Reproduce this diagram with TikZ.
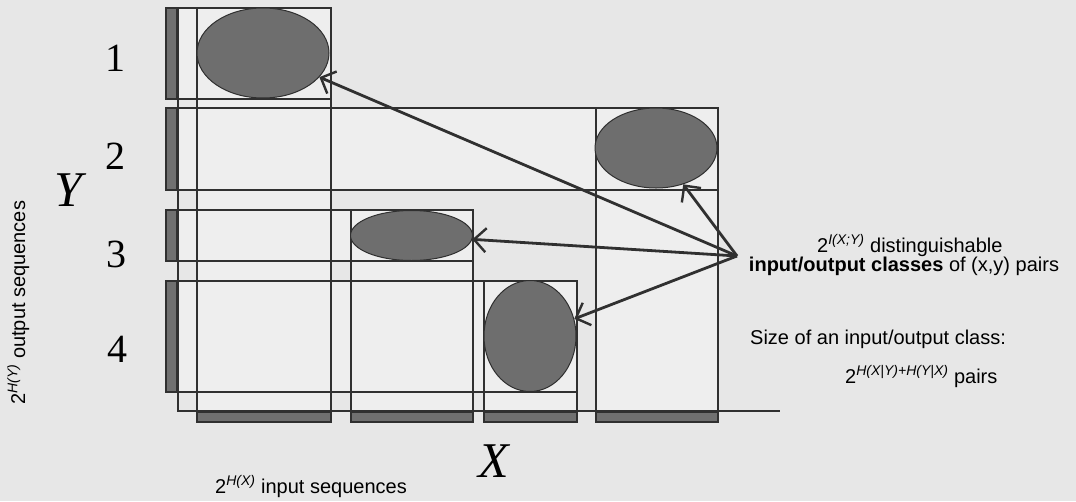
\documentclass[tikz,border=0pt]{standalone}
\usepackage{fontspec}
\setmainfont{Liberation Serif}
\setsansfont{Liberation Sans}
\usetikzlibrary{shapes.geometric, arrows.meta}
\definecolor{bg}{RGB}{231,231,231}
\definecolor{boxfill}{RGB}{238,238,238}
\definecolor{ln}{RGB}{48,48,48}
\definecolor{darkfill}{RGB}{112,112,112}
\definecolor{ellfill}{RGB}{110,110,110}
\begin{document}
\begin{tikzpicture}[x=1pt,y=-1pt,
  boxline/.style={draw=ln, line width=1.5pt},
  boxbg/.style={fill=boxfill},
  bar/.style={fill=darkfill, draw=ln, line width=1.2pt},
  cell/.style={ellipse, fill=ellfill, draw=ln, line width=1pt, inner sep=0pt},
  arr/.style={draw=ln, line width=2.8pt, -{Straight Barb[length=12pt,width=24pt,line width=2.4pt]}},
  num/.style={font=\fontsize{40}{40}\selectfont, inner sep=0pt},
  axlabel/.style={font=\fontsize{50}{50}\selectfont\itshape, inner sep=0pt},
  txt/.style={font=\sffamily\fontsize{20}{24}\selectfont, inner sep=0pt}
]
\useasboundingbox (0,0) rectangle (1076,501);
\fill[bg] (0,0) rectangle (1076,501);

% box fills
\fill[boxbg] (166,8) rectangle (331,99);
\fill[boxbg] (166,108) rectangle (718,190);
\fill[boxbg] (166,210) rectangle (473,261);
\fill[boxbg] (166,281) rectangle (577,392);
\fill[boxbg] (197,8) rectangle (331,422);
\fill[boxbg] (351,210) rectangle (473,422);
\fill[boxbg] (484,281) rectangle (577,422);
\fill[boxbg] (596,108) rectangle (718,422);

% row boxes
\draw[boxline] (166,8) rectangle (331,99);
\draw[boxline] (166,108) rectangle (718,190);
\draw[boxline] (166,210) rectangle (473,261);
\draw[boxline] (166,281) rectangle (577,392);
% column boxes
\draw[boxline] (197,8) rectangle (331,422);
\draw[boxline] (351,210) rectangle (473,422);
\draw[boxline] (484,281) rectangle (577,422);
\draw[boxline] (596,108) rectangle (718,422);

% axes
\draw[boxline] (178,8) -- (178,411) -- (780,411);

% left bars
\draw[bar] (166,8) rectangle (177,99);
\draw[bar] (166,108) rectangle (177,190);
\draw[bar] (166,210) rectangle (177,261);
\draw[bar] (166,281) rectangle (177,392);
% bottom bars
\draw[bar] (197,412) rectangle (331,422);
\draw[bar] (351,412) rectangle (473,422);
\draw[bar] (484,412) rectangle (577,422);
\draw[bar] (596,412) rectangle (718,422);

% ellipses
\node[cell, minimum width=132pt, minimum height=90pt] (e1) at (263,53) {};
\node[cell, minimum width=122pt, minimum height=80pt] (e2) at (656,148) {};
\node[cell, minimum width=122pt, minimum height=50pt] (e3) at (411.5,235.5) {};
\node[cell, minimum width=92pt, minimum height=111pt] (e4) at (530,336) {};

% arrows
\coordinate (src) at (737,256);
\draw[arr] (src) -- (e1);
\draw[arr] (src) -- (e2);
\draw[arr] (src) -- (e3);
\draw[arr] (src) -- (e4);

% row numbers
\node[num] (n1) at (115,58) {1};
\node[num] (n2) at (115,156) {2};
\node[num] (n3) at (116,254) {3};
\node[num] (n4) at (117,349) {4};

% axis labels
\node[axlabel] (ly) at (68,190) {Y};
\node[axlabel] (lx) at (494,461) {X};

% texts
\node[txt, rotate=90, anchor=base west] (ylab) at (25,405) {2\textsuperscript{\itshape H(Y)} output sequences};
\node[txt, anchor=base west] (xlab) at (215,493) {2\textsuperscript{\itshape H(X)} input sequences};
\node[txt, anchor=base west] (t1) at (817,252) {2\textsuperscript{\itshape I(X;Y)} distinguishable};
\node[txt, anchor=base] (t2) at (904,271) {\textbf{input/output classes} of (x,y) pairs};
\node[txt, anchor=base west] (t3) at (750,344) {Size of an input/output class:};
\node[txt, anchor=base west] (t4) at (845,383) {2\textsuperscript{\itshape H(X|Y)+H(Y|X)} pairs};
\end{tikzpicture}
\end{document}
